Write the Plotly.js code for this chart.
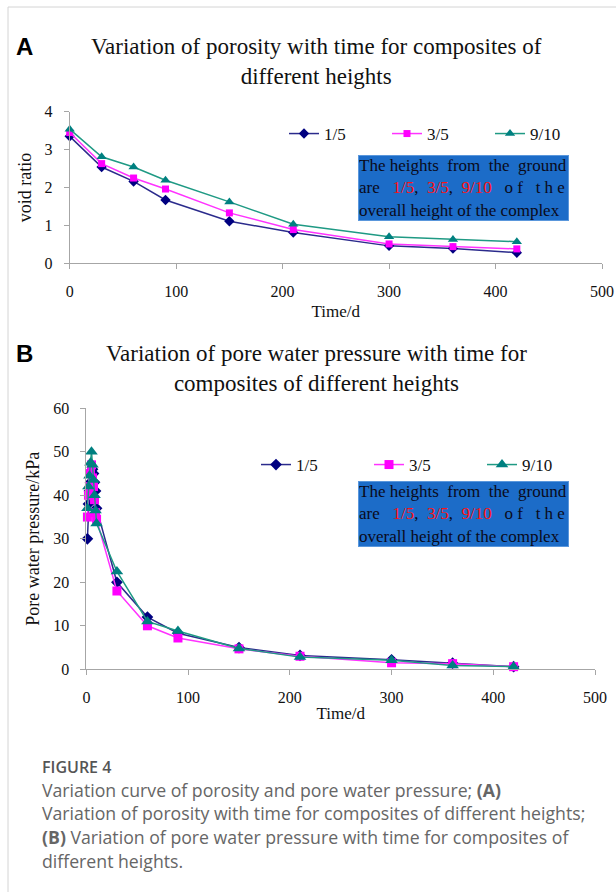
<!DOCTYPE html>
<html>
<head>
<meta charset="utf-8">
<script src="https://cdn.plot.ly/plotly-3.0.1.min.js"></script>
<style>
html,body{margin:0;padding:0;background:#fff;}
#chart{width:616px;height:892px;}
</style>
</head>
<body>
<div id="chart"></div>
<script>
// ---------- DATA ----------
var seriesNames = ['1/5', '3/5', '9/10'];

// Panel A: void ratio vs time
var timeA = [0, 30, 60, 90, 150, 210, 300, 360, 420];
var voidA_1_5  = [3.35, 2.54, 2.16, 1.67, 1.11, 0.81, 0.46, 0.39, 0.28];
var voidA_3_5  = [3.45, 2.63, 2.25, 1.96, 1.33, 0.89, 0.51, 0.44, 0.38];
var voidA_9_10 = [3.54, 2.81, 2.54, 2.19, 1.62, 1.03, 0.70, 0.63, 0.57];

// Panel B: pore water pressure vs time
var timeB = [1, 2, 3, 4, 5, 6, 7, 8, 9, 10, 30, 60, 90, 150, 210, 300, 360, 420];
var pwpB_1_5  = [30, 38, 41, 43, 45, 46, 45, 43, 41, 37, 20, 12, 8.3, 5.0, 3.2, 2.2, 1.4, 0.6];
var pwpB_3_5  = [35, 40, 42, 45, 47, 44, 42, 39, 36, 34.5, 18, 10, 7.2, 4.7, 3.0, 1.5, 1.3, 0.6];
var pwpB_9_10 = [37, 42, 44.5, 47.5, 50, 47, 43.5, 40, 36.5, 33.5, 22.5, 11, 8.8, 4.8, 2.8, 2.1, 0.9, 0.6];

var xTicks = [0, 100, 200, 300, 400, 500];
var yTicksA = [0, 1, 2, 3, 4];
var yTicksB = [0, 10, 20, 30, 40, 50, 60];

// ---------- STYLE ----------
var W = 616, H = 892;
function X(px){ return px / W; }
function Y(py){ return 1 - py / H; }
var SERIF = '"Liberation Serif", "Times New Roman", serif';
var SANS = '"Open Sans", "Noto Sans", sans-serif';
var axisGray = '#a6a6a6';

var styles = [
  {line: '#2b2b8c', marker: '#000080', symbol: 'diamond'},
  {line: '#ff33ff', marker: '#ff00ff', symbol: 'square'},
  {line: '#1f9a84', marker: '#008080', symbol: 'triangle-up'}
];

function mk(x, y, i, xa, ya, leg, msize) {
  return {
    x: x, y: y, name: seriesNames[i], type: 'scatter', mode: 'lines+markers',
    xaxis: xa, yaxis: ya, legend: leg, cliponaxis: false,
    line: {color: styles[i].line, width: 1.5},
    marker: {color: styles[i].marker, symbol: styles[i].symbol, size: msize}
  };
}

var data = [
  mk(timeA, voidA_1_5, 0, 'x', 'y', 'legend', 8),
  mk(timeA, voidA_3_5, 1, 'x', 'y', 'legend', 7),
  mk(timeA, voidA_9_10, 2, 'x', 'y', 'legend', 9),
  mk(timeB, pwpB_1_5, 0, 'x2', 'y2', 'legend2', 9),
  mk(timeB, pwpB_3_5, 1, 'x2', 'y2', 'legend2', 9),
  mk(timeB, pwpB_9_10, 2, 'x2', 'y2', 'legend2', 11)
];

function xax(domain, anchor, standoff) {
  return {
    domain: domain, anchor: anchor, range: [0, 500], tickvals: xTicks,
    showgrid: false, zeroline: false, showline: true, linecolor: axisGray, linewidth: 1,
    ticks: 'outside', ticklen: 5, tickcolor: axisGray, ticklabelstandoff: 8,
    tickfont: {family: SERIF, size: 16, color: '#111'},
    title: {text: 'Time/d', font: {family: SERIF, size: 17, color: '#111'}, standoff: standoff},
    fixedrange: true
  };
}
function yax(domain, anchor, range, ticks, title) {
  return {
    domain: domain, anchor: anchor, range: range, tickvals: ticks,
    showgrid: false, zeroline: false, showline: true, linecolor: axisGray, linewidth: 1,
    ticks: 'outside', ticklen: 5, tickcolor: axisGray, ticklabelstandoff: 8,
    tickfont: {family: SERIF, size: 16, color: '#111'},
    title: {text: title, font: {family: SERIF, size: 18, color: '#111'}, standoff: 8},
    fixedrange: true
  };
}

var red = '#ff1212';
function R(t){ return '<span style="color:' + red + '">' + t + '</span>'; }
var nb = '\u00a0';
var boxText = 'The' + nb + 'heights' + nb + nb + 'from' + nb + nb + 'the' + nb + nb + 'ground<br>' +
  'are' + nb + nb + nb + R('1/5') + ',' + nb + nb + R('3/5') + ',' + nb + nb + R('9/10') +
  nb + nb + nb + 'o' + nb + 'f' + nb + nb + nb + 't' + nb + 'h' + nb + 'e<br>' +
  'overall height of the complex';

function box(topPx) {
  return {
    xref: 'paper', yref: 'paper', x: X(358), y: Y(topPx), xanchor: 'left', yanchor: 'top',
    text: boxText, showarrow: false, align: 'left', valign: 'middle',
    width: 209, height: 64, borderpad: 0, borderwidth: 1,
    bgcolor: '#1c6cc8', bordercolor: '#5a97dc',
    font: {family: SERIF, size: 17, color: '#0a0a1a'}
  };
}

var capColor = '#666666';
function cap(py, txt) {
  return {xref: 'paper', yref: 'paper', x: X(40), y: Y(py), xanchor: 'left', yanchor: 'middle',
    text: txt, showarrow: false, font: {family: SANS, size: 17.7, color: capColor}};
}
var annotations = [
  {xref: 'paper', yref: 'paper', x: X(14), y: Y(47), xanchor: 'left', yanchor: 'middle',
   text: '<b>A</b>', showarrow: false, font: {family: '"Liberation Sans", Arial, sans-serif', size: 24, color: '#000'}},
  {xref: 'paper', yref: 'paper', x: X(316), y: Y(61), xanchor: 'center', yanchor: 'middle',
   text: 'Variation of porosity with time for composites of<br>different heights', showarrow: false,
   font: {family: SERIF, size: 23, color: '#111'}},
  {xref: 'paper', yref: 'paper', x: X(14), y: Y(353), xanchor: 'left', yanchor: 'middle',
   text: '<b>B</b>', showarrow: false, font: {family: '"Liberation Sans", Arial, sans-serif', size: 24, color: '#000'}},
  {xref: 'paper', yref: 'paper', x: X(316), y: Y(368), xanchor: 'center', yanchor: 'middle',
   text: 'Variation of pore water pressure with time for<br>composites of different heights', showarrow: false,
   font: {family: SERIF, size: 23, color: '#111'}},
  box(155),
  box(481),
  {xref: 'paper', yref: 'paper', x: X(40), y: Y(767), xanchor: 'left', yanchor: 'middle',
   text: 'FIGURE 4', showarrow: false, font: {family: SANS, size: 16, color: '#555', weight: 600}},
  cap(790, 'Variation curve of porosity and pore water pressure; <b>(A)</b>'),
  cap(813, 'Variation of porosity with time for composites of different heights;'),
  cap(837, '<b>(B)</b> Variation of pore water pressure with time for composites of'),
  cap(861, 'different heights.')
];

var layout = {
  width: W, height: H, margin: {l: 0, r: 0, t: 0, b: 0},
  paper_bgcolor: '#fff', plot_bgcolor: 'rgba(0,0,0,0)',
  showlegend: true,
  xaxis: xax([X(69.7), X(602)], 'y', 6),
  yaxis: yax([Y(263.3), Y(111.7)], 'x', [0, 4], yTicksA, 'void ratio'),
  xaxis2: xax([X(86.4), X(595)], 'y2', 2),
  yaxis2: yax([Y(669.3), Y(408.3)], 'x2', [0, 60], yTicksB, 'Pore water pressure/kPa'),
  legend: {orientation: 'h', x: X(284), y: Y(134), xanchor: 'left', yanchor: 'middle',
    entrywidth: 58, entrywidthmode: 'pixels', bgcolor: 'rgba(0,0,0,0)',
    font: {family: SERIF, size: 17, color: '#111'}},
  legend2: {orientation: 'h', x: X(256), y: Y(465), xanchor: 'left', yanchor: 'middle',
    entrywidth: 68, entrywidthmode: 'pixels', bgcolor: 'rgba(0,0,0,0)',
    font: {family: SERIF, size: 17, color: '#111'}},
  annotations: annotations,
  shapes: [
    {type: 'line', xref: 'paper', yref: 'paper', x0: X(8), x1: X(8), y0: Y(7), y1: 0,
     line: {color: '#d4d4d4', width: 1}},
    {type: 'line', xref: 'paper', yref: 'paper', x0: X(8), x1: 1, y0: Y(7), y1: Y(7),
     line: {color: '#d4d4d4', width: 1}}
  ]
};

Plotly.newPlot('chart', data, layout, {displayModeBar: false, staticPlot: true});
</script>
</body>
</html>
